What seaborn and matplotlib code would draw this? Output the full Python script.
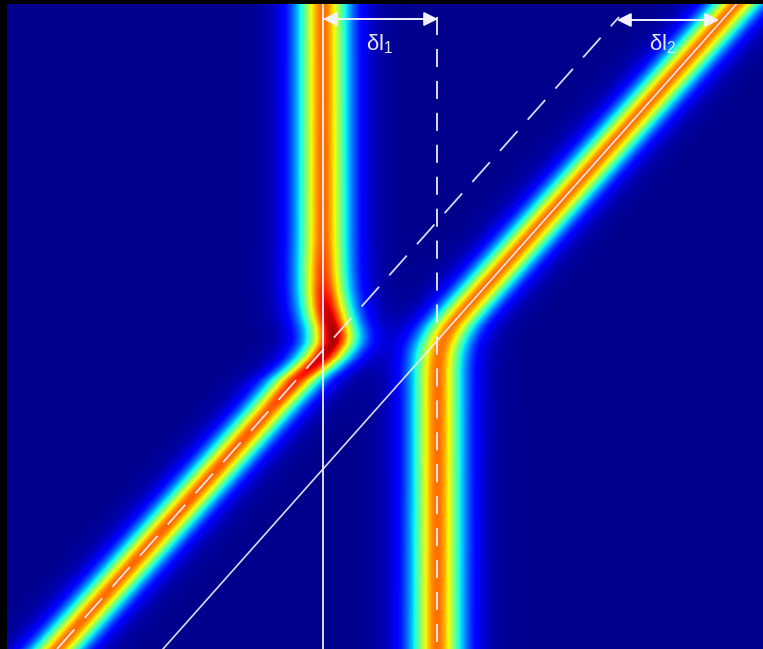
import numpy as np
import pandas as pd
import matplotlib
matplotlib.use("Agg")
import matplotlib.pyplot as plt
import seaborn as sns
from matplotlib.patches import FancyArrowPatch

# ---------------- data (image pixel coordinates) -------------
# track of soliton 1 (enters bottom-left moving, leaves top as stationary)
left_rows = [0, 270, 290, 305, 318, 328, 336, 343, 350, 358, 368, 380, 649]
left_x = [323, 323, 324, 326, 329, 332, 333, 332, 328, 322, 311, 296, 57]
left_amp_rows = [0, 240, 280, 310, 335, 355, 380, 410, 649]
left_amp = [0.78, 0.79, 0.84, 0.92, 0.96, 0.93, 0.86, 0.80, 0.78]

# track of soliton 2 (stationary at bottom, leaves top-right moving)
right_rows = [0, 310, 325, 335, 345, 355, 370, 649]
right_x = [740, 464.5, 452, 446, 441.5, 439, 437.5, 437]
right_amp_rows = [0, 300, 340, 380, 649]
right_amp = [0.78, 0.78, 0.77, 0.78, 0.78]

soliton_width = 24.0
background = 0.012

# reference lines (image pixel coordinates)
solid_vertical = ([323, 323], [4, 649])
dashed_vertical = ([437, 437], [17, 649])
dashed_diagonal = ([57, 619], [649, 17])
solid_diagonal = ([163, 740], [649, 0])
arrow1 = ([323, 438], [19, 19])
arrow2 = ([617, 719], [20, 20])
labels = ["δl$_\\mathregular{1}$", "δl$_\\mathregular{2}$"]
label_pos = [(380, 44), (663, 44)]

# ---------------- build field -------------
X0, Y0 = 7, 4
ncols, nrows = 756, 645
px = X0 + np.arange(ncols) + 0.5
py = Y0 + np.arange(nrows) + 0.5

xl = np.interp(py, left_rows, left_x)
al = np.interp(py, left_amp_rows, left_amp)
xr = np.interp(py, right_rows, right_x)
ar = np.interp(py, right_amp_rows, right_amp)

def sech2(z):
    return 1.0 / np.cosh(z) ** 2

U = (al[:, None] * sech2((px[None, :] - xl[:, None]) / soliton_width)
     + ar[:, None] * sech2((px[None, :] - xr[:, None]) / soliton_width)
     + background)
U = np.clip(U, 0, 1)
df = pd.DataFrame(U)

# ---------------- plot -------------
plt.rcParams["lines.scale_dashes"] = False
plt.rcParams["mathtext.fontset"] = "custom"
plt.rcParams["mathtext.rm"] = "Liberation Sans"
fig = plt.figure(figsize=(7.63, 6.49), dpi=100, facecolor="black")
ax = fig.add_axes([X0 / 763, 0, ncols / 763, nrows / 649])
sns.heatmap(df, ax=ax, cmap="jet", vmin=0, vmax=1, cbar=False,
            xticklabels=False, yticklabels=False, rasterized=True)
ax.set_xlim(0, ncols)
ax.set_ylim(nrows, 0)
ax.axis("off")

def tx(xs):
    return [v - X0 for v in xs]

def ty(ys):
    return [v - Y0 for v in ys]

lc = "#f2f2ff"
ax.plot(tx(solid_vertical[0]), ty(solid_vertical[1]), color=lc, lw=1.4, alpha=0.9)
ax.plot(tx(solid_diagonal[0]), ty(solid_diagonal[1]), color=lc, lw=1.2, alpha=0.9)
ax.plot(tx(dashed_vertical[0]), ty(dashed_vertical[1]), color=lc, lw=1.4, alpha=0.9,
        dashes=(13, 10))
ax.plot(tx(dashed_diagonal[0]), ty(dashed_diagonal[1]), color=lc, lw=1.3, alpha=0.9,
        dashes=(19, 11))

for arr in (arrow1, arrow2):
    xs, ys = tx(arr[0]), ty(arr[1])
    a = FancyArrowPatch((xs[0], ys[0]), (xs[1], ys[1]),
                        arrowstyle="<|-|>,head_length=0.6,head_width=0.3",
                        mutation_scale=14, color=lc, lw=1.4,
                        shrinkA=0, shrinkB=0)
    ax.add_patch(a)

for lab, (lx, ly) in zip(labels, label_pos):
    ax.text(lx - X0, ly - Y0, lab, color="#e6e6f5", fontsize=16,
            family="Liberation Sans", ha="center", va="center")

fig.savefig("out.png", dpi=100, facecolor="black")
